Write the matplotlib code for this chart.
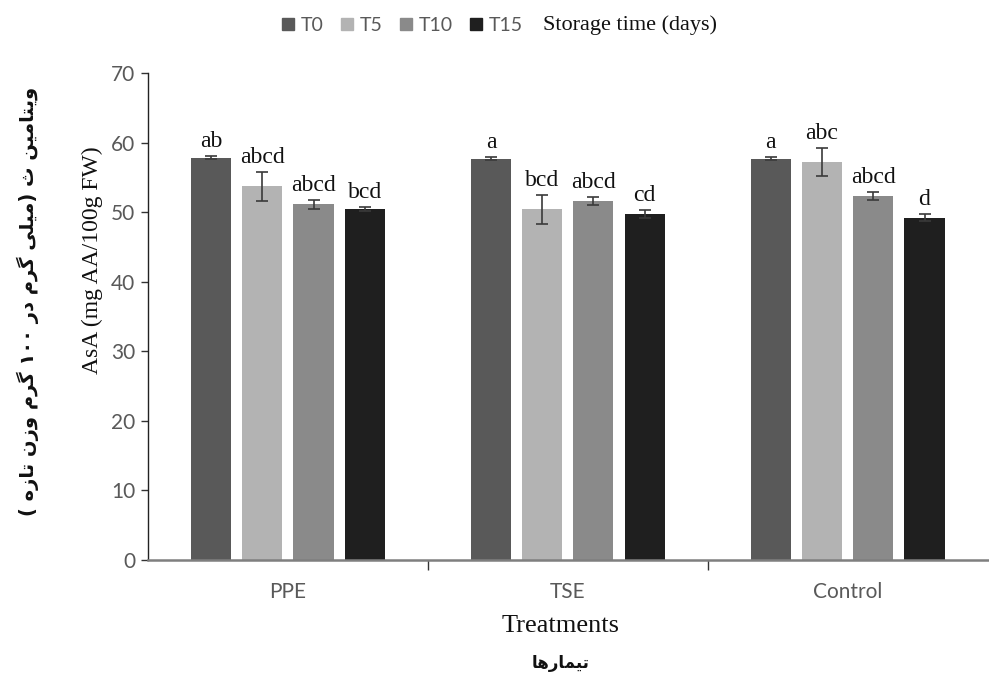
import re
import matplotlib
matplotlib.use("Agg")
import matplotlib.pyplot as plt
from matplotlib.patches import Rectangle

# data
treatments = ["PPE", "TSE", "Control"]
storage = ["T0", "T5", "T10", "T15"]
asa = {
    "T0": [57.8, 57.7, 57.7],
    "T5": [53.7, 50.4, 57.2],
    "T10": [51.1, 51.6, 52.3],
    "T15": [50.4, 49.7, 49.2],
}
err = {
    "T0": [0.2, 0.2, 0.2],
    "T5": [2.1, 2.1, 2.0],
    "T10": [0.6, 0.6, 0.6],
    "T15": [0.3, 0.55, 0.5],
}
letters = {
    "T0": ["ab", "a", "a"],
    "T5": ["abcd", "bcd", "abc"],
    "T10": ["abcd", "abcd", "abcd"],
    "T15": ["bcd", "cd", "d"],
}
colors = ["#595959", "#b3b3b3", "#8a8a8a", "#1f1f1f"]

ylabel_fa = "ویتامین ث (میلی گرم در ۱۰۰ گرم وزن تازه )"
xlabel_fa = "تیمارها"

# matplotlib does not shape arabic script, so map letters to presentation forms
# (isolated, final, initial, medial); None = letter does not join to the left
FORMS = {
    "ا": ("\uFE8D", "\uFE8E", None, None),
    "د": ("\uFEA9", "\uFEAA", None, None),
    "ر": ("\uFEAD", "\uFEAE", None, None),
    "ز": ("\uFEAF", "\uFEB0", None, None),
    "و": ("\uFEED", "\uFEEE", None, None),
    "ت": ("\uFE95", "\uFE96", "\uFE97", "\uFE98"),
    "ث": ("\uFE99", "\uFE9A", "\uFE9B", "\uFE9C"),
    "ل": ("\uFEDD", "\uFEDE", "\uFEDF", "\uFEE0"),
    "م": ("\uFEE1", "\uFEE2", "\uFEE3", "\uFEE4"),
    "ن": ("\uFEE5", "\uFEE6", "\uFEE7", "\uFEE8"),
    "ه": ("\uFEE9", "\uFEEA", "\uFEEB", "\uFEEC"),
    "ی": ("\uFBFC", "\uFBFD", "\uFBFE", "\uFBFF"),
    "گ": ("\uFB92", "\uFB93", "\uFB94", "\uFB95"),
}


def shape(text):
    out = []
    for i, ch in enumerate(text):
        if ch not in FORMS:
            out.append(ch)
            continue
        prev = text[i - 1] if i > 0 else ""
        nxt = text[i + 1] if i + 1 < len(text) else ""
        join_prev = prev in FORMS and FORMS[prev][2] is not None
        join_next = nxt in FORMS and FORMS[ch][2] is not None
        iso, fin, ini, med = FORMS[ch]
        if join_prev and join_next:
            out.append(med)
        elif join_prev:
            out.append(fin)
        elif join_next:
            out.append(ini)
        else:
            out.append(iso)
    vis = "".join(out)[::-1]
    vis = re.sub("[0-9\u06F0-\u06F9]+", lambda m: m.group(0)[::-1], vis)
    return vis.translate(str.maketrans("()", ")("))


sans = "Lato"
serif = "Liberation Serif"
tick_col = "#595959"

fig = plt.figure(figsize=(9.89, 6.77), dpi=100)
ax = fig.add_axes([0.1496, 0.1728, 0.849, 0.7194])

step = 0.183
width = 0.143
for j, s in enumerate(storage):
    xs = [i + (j - 1.5) * step for i in range(len(treatments))]
    ax.bar(xs, asa[s], width, color=colors[j], zorder=2)
    ax.errorbar(xs, asa[s], yerr=err[s], fmt="none", ecolor="#3a3a3a",
                elinewidth=1.2, capsize=4, capthick=1.2, zorder=3)
    for x, v, e, lab in zip(xs, asa[s], err[s], letters[s]):
        ax.text(x, v + e + 1.3, lab, ha="center", va="baseline",
                fontsize=17, family=serif, color="#111111")

ax.set_xlim(-0.5, 2.5)
ax.set_ylim(0, 70)
ax.set_yticks(range(0, 71, 10))
ax.set_xticks(range(len(treatments)))
ax.set_xticklabels(treatments)
ax.set_xticks([0.5, 1.5], minor=True)
ax.tick_params(axis="x", which="major", length=0, pad=16, labelsize=15,
               labelcolor=tick_col)
ax.tick_params(axis="x", which="minor", length=7, width=1, color="#333333")
ax.tick_params(axis="y", length=5, width=1, pad=4, labelsize=15,
               labelcolor=tick_col, color="#333333")
for lab in ax.get_xticklabels() + ax.get_yticklabels():
    lab.set_family(sans)

for sp in ["top", "right"]:
    ax.spines[sp].set_visible(False)
ax.spines["left"].set_color("#222222")
ax.spines["left"].set_linewidth(1.0)
ax.spines["bottom"].set_color("#7f7f7f")
ax.spines["bottom"].set_linewidth(1.8)

handles = [Rectangle((0, 0), 1, 1, color=c) for c in colors]
fig.legend(handles, storage, loc="center", bbox_to_anchor=(0.407, 0.963),
           ncol=4, frameon=False, handlelength=0.6, handleheight=0.6,
           handletextpad=0.35, columnspacing=0.9,
           prop={"family": sans, "size": 14}, labelcolor=tick_col)
fig.text(0.549, 0.963, "Storage time (days)", ha="left", va="center",
         fontsize=16, family=serif, color="#111111")

fig.text(0.567, 0.075, "Treatments", ha="center", va="center",
         fontsize=19, family=serif, color="#111111")
fig.text(0.567, 0.02, shape(xlabel_fa), ha="center", va="center",
         fontsize=12, family="DejaVu Sans", weight="bold", color="#111111")

fig.text(0.093, 0.615, "AsA (mg AA/100g FW)", ha="center", va="center",
         rotation=90, fontsize=17, family=serif, color="#111111")
fig.text(0.028, 0.555, shape(ylabel_fa), ha="center", va="center",
         rotation=90, fontsize=14, family="DejaVu Sans", weight="bold",
         color="#111111")

fig.savefig("out.png", dpi=100)
